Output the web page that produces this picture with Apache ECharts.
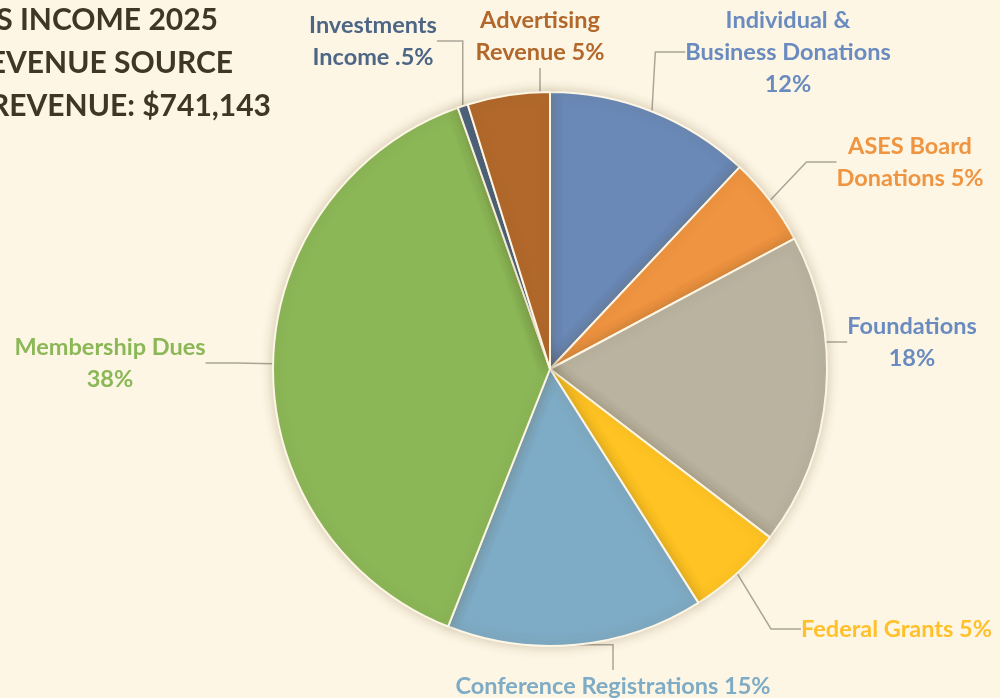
<!DOCTYPE html>
<html>
<head>
<meta charset="utf-8">
<script src="https://cdn.jsdelivr.net/npm/echarts@6/dist/echarts.min.js"></script>
<style>
  html, body { margin: 0; padding: 0; background: #fdf6e4; }
  #chart { width: 1000px; height: 698px; }
</style>
</head>
<body>
<div id="chart"></div>
<script>
// slices, clockwise from 12 o'clock
const sources = [
  'Individual &\nBusiness Donations\n12%',
  'ASES Board\nDonations 5%',
  'Foundations\n18%',
  'Federal Grants 5%',
  'Conference Registrations 15%',
  'Membership Dues\n38%',
  'Investments\nIncome .5%',
  'Advertising\nRevenue 5%'
];
const shares = [12.0, 5.2, 18.2, 5.6, 15.0, 38.6, 0.6, 4.8];
const colors = ['#6a89b7', '#ef9441', '#bab3a0', '#ffc423', '#7eabc5', '#8bb757', '#4d6685', '#b2682b'];
const labelColors = ['#6a8bc0', '#ef9441', '#6a8bc0', '#ffc02a', '#7eabc5', '#8bb757', '#4d6685', '#b2682b'];
const titleLines = ['S INCOME 2025', 'EVENUE SOURCE', 'REVENUE: $741,143'];

// label anchor points (x, y = top of text block), alignment
const labelSpots = [
  [788, 4, 'center'],
  [910, 130, 'center'],
  [912, 310, 'center'],
  [801, 613, 'left'],
  [613, 670, 'center'],
  [110, 331, 'center'],
  [373, 9, 'center'],
  [540, 4, 'center']
];

const chart = echarts.init(document.getElementById('chart'));
chart.setOption({
  backgroundColor: '#fdf6e4',
  animation: false,
  graphic: titleLines.map((t, i) => ({
    type: 'text',
    right: [782, 767, 729][i],
    top: 5 + i * 43,
    style: {
      text: t,
      fill: '#3f3627',
      font: 'bold 30px Lato',
      textAlign: 'right'
    }
  })),
  series: [{
    type: 'pie',
    left: -400,
    right: -400,
    top: 0,
    bottom: 0,
    center: [950, 369],
    radius: [0, 277],
    startAngle: 90,
    clockwise: true,
    itemStyle: {
      borderColor: '#fdf6e4',
      borderWidth: 2,
      shadowBlur: 12,
      shadowColor: 'rgba(90, 70, 30, 0.25)'
    },
    label: {
      show: true,
      position: 'outside',
      fontFamily: 'Lato',
      fontWeight: 'bold',
      fontSize: 23.5,
      lineHeight: 32,
      align: 'center'
    },
    labelLine: {
      show: true,
      lineStyle: { color: '#aba598', width: 1.5 }
    },
    labelLayout: (p) => {
      const s = labelSpots[p.dataIndex];
      return { x: s[0], y: s[1], align: s[2], verticalAlign: 'top' };
    },
    data: shares.map((v, i) => ({
      name: sources[i],
      value: v,
      itemStyle: { color: colors[i] },
      label: { color: labelColors[i], align: labelSpots[i][2] }
    }))
  }]
});
</script>
</body>
</html>
